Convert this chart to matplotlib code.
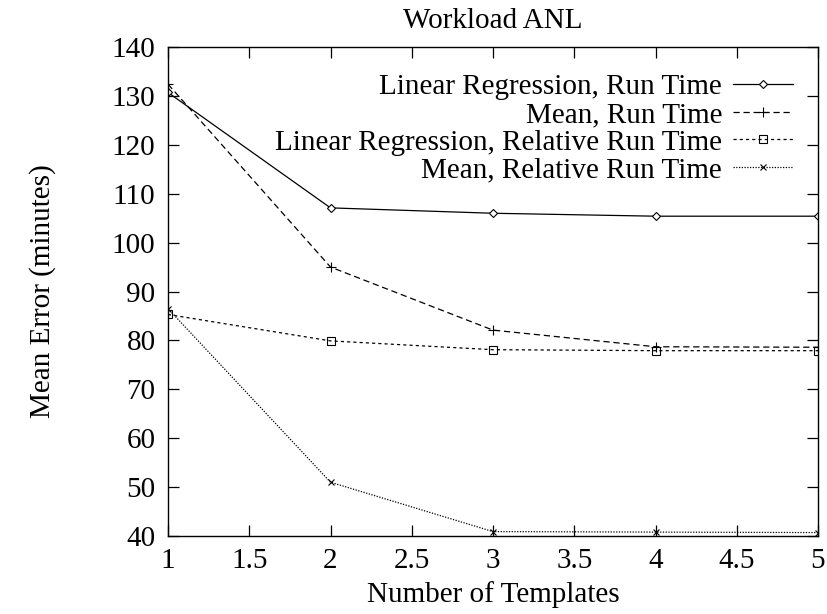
import matplotlib
matplotlib.use("Agg")
import matplotlib.pyplot as plt

plt.rcParams['font.family'] = ['Liberation Serif', 'DejaVu Serif']

# data
templates = [1, 2, 3, 4, 5]
lr_run_time = [130.7, 107.1, 106.0, 105.4, 105.4]
mean_run_time = [132.4, 95.0, 82.1, 78.7, 78.6]
lr_rel_run_time = [85.3, 79.9, 78.1, 77.9, 77.9]
mean_rel_run_time = [86.5, 51.0, 40.9, 40.8, 40.7]
labels = ["Linear Regression, Run Time", "Mean, Run Time",
          "Linear Regression, Relative Run Time", "Mean, Relative Run Time"]

fig = plt.figure(figsize=(8.27, 6.14), dpi=100)
ax = fig.add_axes([168/827, 78/614, 650/827, 489/614])

lw = 0.9
ax.plot(templates, lr_run_time, color="black", lw=lw, ls="-",
        marker="D", ms=4.5, mfc="white", mew=0.8, label=labels[0])
ax.plot(templates, mean_run_time, color="black", lw=lw, ls=(0, (5, 3)),
        marker="+", ms=7, mew=0.8, label=labels[1])
ax.plot(templates, lr_rel_run_time, color="black", lw=lw, ls=(0, (2.5, 2.5)),
        marker="s", ms=6, mfc="none", mew=0.8, label=labels[2])
ax.plot(templates, mean_rel_run_time, color="black", lw=lw, ls=(0, (1, 1.2)),
        marker="x", ms=5, mew=0.8, label=labels[3])

ax.set_xlim(1, 5)
ax.set_ylim(40, 140)
ax.set_xticks([1, 1.5, 2, 2.5, 3, 3.5, 4, 4.5, 5])
ax.set_xticklabels(["1", "1.5", "2", "2.5", "3", "3.5", "4", "4.5", "5"])
ax.set_yticks(range(40, 141, 10))
ax.tick_params(direction="in", length=8, width=0.9, top=True, right=True,
               labelsize=21, pad=9)
for s in ax.spines.values():
    s.set_linewidth(1.0)

ax.set_title("Workload ANL", fontsize=21, pad=14)
ax.set_xlabel("Number of Templates", fontsize=21, labelpad=5)
ax.set_ylabel("Mean Error (minutes)", fontsize=21, labelpad=40)

ax.legend(loc="upper right", bbox_to_anchor=(793/827, 1 - 74/614),
          bbox_transform=fig.transFigure, frameon=False, markerfirst=False,
          fontsize=21, handlelength=2.05, handletextpad=0.38,
          labelspacing=0.04, borderpad=0, borderaxespad=0)

fig.savefig("out.png", dpi=100)
